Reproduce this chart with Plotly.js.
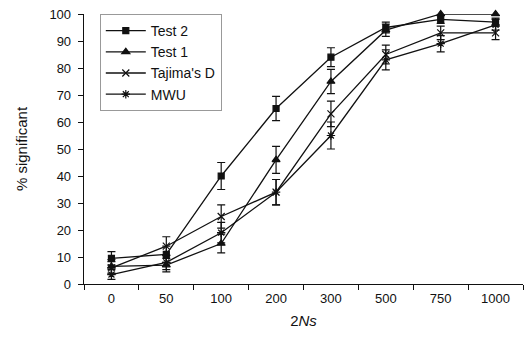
<!DOCTYPE html>
<html><head><meta charset="utf-8">
<script src="https://cdn.plot.ly/plotly-3.0.1.min.js"></script>
<style>html,body{margin:0;padding:0;background:#fff}#chart{width:525px;height:340px}</style>
</head><body><div id="chart"></div>
<script>
const categories = ["0","50","100","200","300","500","750","1000"];
const test2 = [9.5, 11, 40, 65, 84, 95, 98, 97];
const test2Err = [2.5, 3, 5, 4.5, 3.5, 2, 1.5, 1.5];
const test1 = [6.5, 7, 15, 46, 75, 94, 100, 100];
const test1Err = [2.5, 2.5, 3.5, 5, 4.5, 2.3, 0.5, 0.5];
const tajima = [6, 14, 25, 34, 63, 85, 93, 93];
const tajimaErr = [2.3, 3.5, 4.3, 4.7, 4.7, 3.5, 2.5, 2.5];
const mwu = [3.5, 8, 19, 34, 55, 83, 89, 96];
const mwuErr = [1.8, 2.7, 3.8, 4.7, 5, 3.7, 3, 2];

function tr(name, y, err, symbol, size){
  return {
    type:'scatter', mode:'lines+markers', name:name, x:categories, y:y,
    line:{color:'#111', width:1.3},
    marker:{symbol:symbol, size:size, color:'#111', line:{color:'#111', width:1.2}},
    error_y:{type:'data', array:err, visible:true, color:'#111', thickness:1.2, width:4},
    cliponaxis:false
  };
}
const data = [
  tr('Test 2', test2, test2Err, 'square', 6),
  tr('Test 1', test1, test1Err, 'triangle-up', 7),
  tr("Tajima's D", tajima, tajimaErr, 'x-thin-open', 7),
  tr('MWU', mwu, mwuErr, 'asterisk-open', 7)
];
const layout = {
  width:525, height:340,
  margin:{l:84, r:2, t:14, b:56},
  paper_bgcolor:'#fff', plot_bgcolor:'#fff',
  font:{family:'Liberation Sans, Arial, sans-serif', size:13, color:'#111'},
  showlegend:true,
  legend:{x:0.036, y:1.0, xanchor:'left', yanchor:'top', bgcolor:'#fff',
    bordercolor:'#999', borderwidth:1, font:{size:14}, tracegroupgap:0, itemwidth:40},
  xaxis:{type:'category', range:[-0.5,7.5], showgrid:false, zeroline:false,
    showline:true, linecolor:'#111', linewidth:1.3, ticks:'outside', ticklen:5,
    tickcolor:'#111', tickson:'boundaries', ticklabelstandoff:2,
    title:{text:'2<i>Ns</i>', font:{size:15}, standoff:10}},
  yaxis:{range:[0,100], dtick:10, showgrid:false, zeroline:false,
    showline:true, linecolor:'#111', linewidth:1.3, ticks:'outside', ticklen:5,
    tickcolor:'#111', ticklabelstandoff:4,
    title:{text:'% significant', font:{size:15}, standoff:18}}
};
Plotly.newPlot('chart', data, layout, {displayModeBar:false, staticPlot:true});
</script></body></html>
